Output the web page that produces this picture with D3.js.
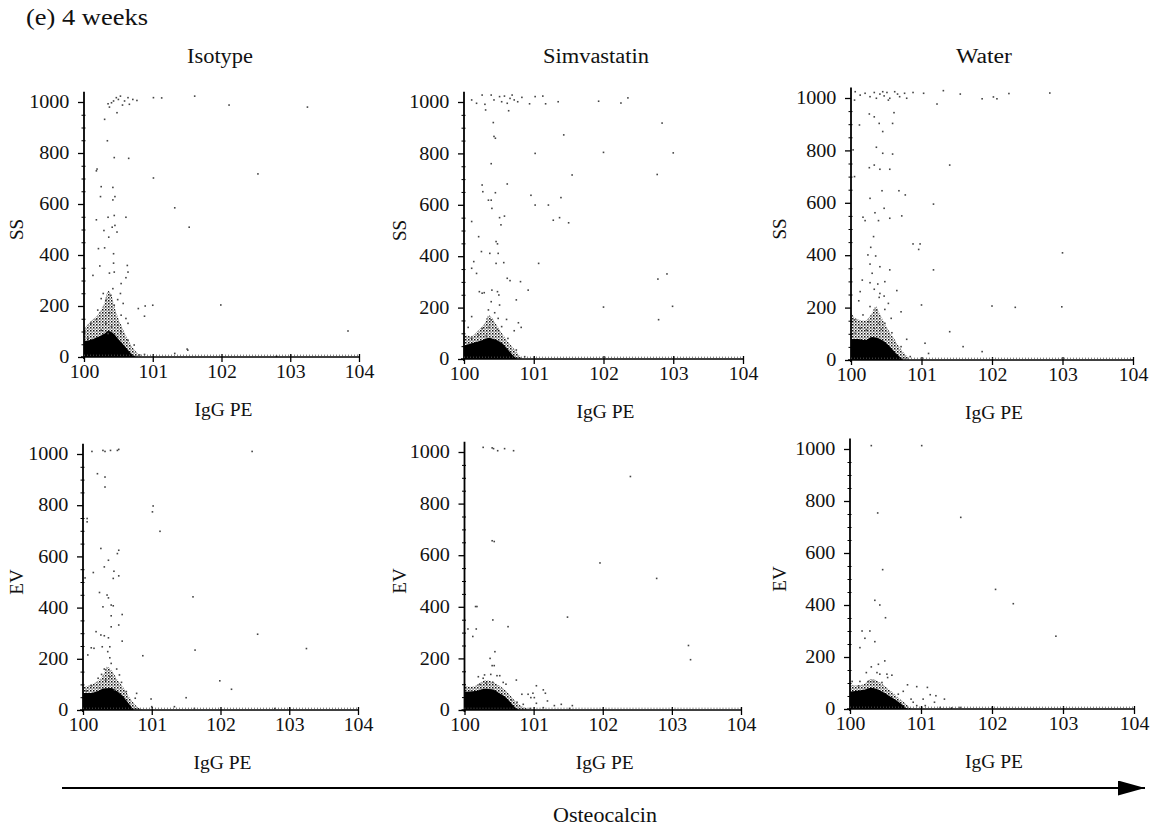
<!DOCTYPE html>
<html><head><meta charset="utf-8">
<script src="https://cdn.jsdelivr.net/npm/d3@7"></script>
<style>
body{margin:0;background:#fff}
svg{display:block}
text{font-family:"Liberation Serif","Times New Roman",serif;fill:#111}
</style>
</head><body>
<svg id="c" width="1156" height="832"></svg>
<script>
// ---------- text / categories ----------
const header = "(e) 4 weeks";
const panelTitles = ["Isotype", "Simvastatin", "Water"];
const rowLabels = ["SS", "EV"];
const xAxisLabel = "IgG PE";
const arrowLabel = "Osteocalcin";
const xTickValues = [0, 1, 2, 3, 4];              // log10 decades
const xTickLabels = ["100", "101", "102", "103", "104"];
const yTickValues = [0, 200, 400, 600, 800, 1000];
const yMinorStep = 50;

// ---------- events: [log10 IgG PE, channel value] ----------
const isotypeSS = [[0.35,993],[0.40,997],[0.43,1004],[0.47,1017],[0.50,1010],[0.53,1023],[0.56,988],[0.59,1004],[0.64,1017],[0.66,991],[0.71,1010],[0.77,1006],[0.48,958],[0.37,980],[1.01,1017],[1.13,1016],[1.61,1023],[2.11,988],[3.25,980],
[0.30,932],[0.34,848],[0.44,782],[0.65,779],[0.18,730],[0.19,737],[1.01,702],[2.53,718],[0.25,668],[0.42,665],[0.24,629],[0.45,629],[0.42,616],[1.32,585],[0.35,548],[0.44,555],[0.61,548],[1.53,509],[0.18,538],[0.29,496],[0.41,509],[0.45,516],[0.48,490],[0.36,470],[0.21,425],[0.30,428],[0.43,405],[0.43,368],[0.44,333],[0.23,357],[0.63,359],[0.64,333],[0.13,320],[0.37,329],[0.61,311],[0.54,288],[0.42,268],[0.28,249],[0.39,242],[0.53,249],[0.25,229],[0.32,223],[0.49,225],[0.44,203],[0.57,210],[0.79,190],[0.89,200],[0.88,160],[1.00,203],[1.99,204],[0.20,184],[0.37,173],[0.54,164],[0.61,151],[0.18,147],[0.10,132],[0.32,132],[0.40,118],[0.49,125],[0.64,132],[0.25,105],[0.35,92],[0.54,99],[0.06,73],[0.64,66],[0.73,47],[0.81,8],[0.88,10],[1.51,27],[1.32,14],[1.50,31],[3.84,102],[2.80,3]];
const isotypeSSCore = [[0,62],[0.05,64],[0.1,68],[0.2,78],[0.3,92],[0.35,102],[0.4,98],[0.45,86],[0.5,70],[0.55,56],[0.6,40],[0.65,24],[0.7,10],[0.76,0]];
const isotypeSSHalo = [[0,110],[0.1,140],[0.2,165],[0.3,215],[0.35,260],[0.4,240],[0.45,190],[0.5,150],[0.55,120],[0.6,88],[0.7,40],[0.8,8],[0.83,0]];

const simvaSS = [[0.11,1008],[0.18,995],[0.26,1027],[0.30,991],[0.39,1027],[0.43,1008],[0.51,1021],[0.54,1001],[0.58,1023],[0.62,995],[0.66,1014],[0.69,1027],[0.72,1008],[0.77,1001],[0.83,1018],[0.94,993],[1.02,1021],[1.13,1023],[1.17,993],[1.35,1001],[1.93,1003],[2.25,996],[2.35,1016],
[0.31,969],[0.64,966],[0.42,920],[0.43,866],[0.45,859],[1.43,872],[2.84,918],[1.02,800],[2.00,804],[3.00,802],[0.39,760],[1.55,716],[2.77,718],[0.62,681],[0.26,677],[0.27,651],[0.45,647],[0.96,637],[1.39,628],[0.35,618],[0.39,618],[0.40,586],[1.02,599],[1.21,599],[0.51,550],[0.58,556],[1.37,550],[1.28,540],[1.50,530],[0.11,535],[0.53,522],[0.21,476],[0.46,457],[0.48,448],[0.25,418],[0.37,411],[0.49,411],[0.14,379],[0.46,372],[0.57,375],[1.07,372],[0.11,353],[0.18,333],[2.78,311],[2.91,331],[0.62,314],[0.66,305],[0.81,301],[0.92,268],[0.22,262],[0.26,256],[0.29,258],[0.40,268],[0.48,262],[0.50,249],[0.75,230],[0.39,223],[2.99,205],[2.00,202],[0.51,210],[0.35,191],[0.44,180],[0.11,165],[2.79,153],[0.39,152],[0.49,158],[0.61,154],[0.78,141],[0.82,123],[0.26,119],[0.36,123],[0.48,115],[0.54,126],[0.72,110],[0.06,123],[0.21,93],[0.32,89],[0.63,80],[0.11,80],[0.75,35],[0.87,9]];
const simvaSSCore = [[0,52],[0.1,60],[0.25,72],[0.35,82],[0.45,76],[0.55,60],[0.6,46],[0.65,30],[0.7,15],[0.76,0]];
const simvaSSHalo = [[0,95],[0.1,88],[0.2,110],[0.3,140],[0.35,170],[0.4,160],[0.5,118],[0.6,78],[0.7,44],[0.8,12],[0.83,0]];

const waterSS = [[0.06,1024],[0.13,1011],[0.20,1018],[0.27,1005],[0.33,1021],[0.36,999],[0.41,1015],[0.45,1024],[0.47,1008],[0.51,1021],[0.55,999],[0.62,1024],[0.66,1015],[0.69,1005],[0.76,1018],[0.79,999],[0.88,1021],[1.03,1018],[1.31,1028],[1.55,1015],[1.22,977],[0.05,992],[0.53,992],[1.86,997],[2.02,1004],[2.07,997],[2.24,1017],[2.82,1019],
[0.26,939],[0.61,944],[0.33,928],[0.12,897],[0.40,903],[0.59,903],[0.45,872],[0.03,802],[0.36,812],[0.45,789],[0.59,786],[1.40,744],[0.26,734],[0.33,744],[0.41,728],[0.55,728],[0.05,700],[0.44,646],[0.68,646],[0.77,630],[0.27,617],[1.17,595],[0.47,579],[0.34,562],[0.72,550],[0.17,545],[0.20,532],[0.39,532],[0.55,541],[0.88,443],[0.98,443],[0.96,422],[0.32,471],[0.28,430],[0.24,401],[0.35,397],[3.00,409],[0.27,366],[0.41,356],[1.17,344],[0.30,331],[0.55,344],[0.16,305],[0.27,295],[0.38,290],[0.48,299],[0.65,265],[0.33,270],[0.41,254],[0.13,261],[0.40,239],[0.47,244],[0.53,216],[0.11,226],[2.00,206],[2.33,201],[2.99,203],[0.71,184],[1.00,210],[0.27,204],[0.36,191],[0.48,193],[0.57,159],[0.17,172],[0.05,153],[0.25,146],[0.39,140],[0.48,140],[0.13,121],[0.33,121],[0.43,117],[0.58,104],[0.22,115],[0.06,102],[0.79,79],[0.71,51],[1.05,64],[0.84,13],[1.10,25],[1.59,51],[1.86,32],[1.40,108]];
const waterSSCore = [[0,80],[0.1,80],[0.2,76],[0.3,88],[0.4,82],[0.5,64],[0.55,52],[0.6,36],[0.65,22],[0.7,10],[0.74,0]];
const waterSSHalo = [[0,185],[0.05,160],[0.1,155],[0.2,150],[0.3,180],[0.35,205],[0.4,180],[0.5,128],[0.6,86],[0.7,44],[0.8,12],[0.83,0]];

const isotypeEV = [[0.13,1010],[0.29,1014],[0.32,1010],[0.40,1014],[0.50,1014],[0.52,1018],[2.46,1010],[0.21,923],[0.32,910],[0.32,871],[1.02,797],[1.01,774],[1.12,698],[0.06,748],[0.06,735],[0.26,631],[0.52,624],[0.50,611],[0.37,585],[0.31,559],[0.15,537],[0.03,516],[0.45,542],[0.44,514],[0.52,524],[0.24,459],[0.35,449],[0.37,438],[0.29,403],[0.41,410],[0.44,407],[1.60,442],[0.41,368],[0.57,373],[0.41,325],[0.52,332],[0.19,306],[0.26,293],[0.31,290],[0.37,282],[0.57,269],[2.54,296],[3.25,240],[0.12,243],[0.16,241],[0.28,247],[0.39,247],[0.07,215],[0.36,228],[0.39,204],[0.87,212],[1.63,234],[0.41,182],[0.31,160],[0.49,160],[0.27,139],[0.39,130],[0.53,137],[0.22,124],[0.33,117],[0.56,108],[1.99,114],[2.16,81],[0.12,95],[0.24,87],[0.46,78],[0.05,74],[0.63,72],[0.78,65],[0.76,46],[0.99,43],[1.50,48],[1.33,13],[1.00,13],[1.62,6],[2.79,6]];
const isotypeEVCore = [[0,66],[0.1,66],[0.2,72],[0.3,84],[0.4,86],[0.5,72],[0.6,48],[0.65,30],[0.7,14],[0.74,0]];
const isotypeEVHalo = [[0,88],[0.1,98],[0.2,110],[0.3,140],[0.35,170],[0.4,160],[0.5,118],[0.6,82],[0.7,40],[0.8,10],[0.86,0]];

const simvaEV = [[0.27,1018],[0.40,1016],[0.42,1013],[0.48,1005],[0.58,1013],[0.71,1005],[2.40,905],[0.40,656],[0.43,653],[2.78,510],[1.96,570],[0.16,401],[0.18,401],[0.41,349],[1.49,360],[0.05,314],[0.17,314],[0.63,323],[0.12,285],[3.24,250],[3.27,195],[0.44,226],[0.37,200],[0.40,172],[0.43,172],[0.38,138],[0.20,129],[0.27,123],[0.47,133],[0.51,133],[0.29,136],[0.75,116],[0.56,107],[0.41,107],[0.60,100],[0.22,100],[0.31,104],[1.04,94],[1.14,78],[0.10,74],[0.83,61],[0.92,61],[0.99,65],[1.17,65],[0.96,48],[1.01,48],[1.20,35],[0.68,39],[0.76,30],[0.85,22],[1.04,26],[1.30,17],[1.40,22],[1.56,17],[0.95,6],[1.14,9],[1.52,6]];
const simvaEVCore = [[0,70],[0.1,72],[0.2,76],[0.3,82],[0.4,80],[0.5,66],[0.6,48],[0.65,34],[0.7,18],[0.75,6],[0.79,0]];
const simvaEVHalo = [[0,95],[0.1,90],[0.2,100],[0.3,115],[0.4,110],[0.5,95],[0.6,74],[0.7,44],[0.8,18],[0.9,6],[0.95,0]];

const waterEV = [[0.30,1013],[1.01,1013],[0.39,754],[1.56,737],[0.46,536],[0.35,418],[0.42,400],[0.50,351],[0.17,300],[0.28,300],[0.21,272],[0.35,259],[0.14,236],[0.49,185],[0.40,172],[0.30,162],[0.23,140],[0.38,140],[0.42,134],[0.52,134],[0.59,130],[0.53,121],[0.03,106],[0.14,106],[0.26,106],[0.33,106],[0.45,102],[0.12,89],[0.81,93],[0.94,86],[1.09,83],[1.13,55],[1.21,51],[0.75,68],[0.68,57],[0.86,38],[1.03,38],[1.19,26],[0.89,26],[1.33,38],[0.94,13],[1.06,13],[1.27,6],[1.43,4],[1.55,6],[2.05,460],[2.30,405],[2.90,280]];
const waterEVCore = [[0,66],[0.1,70],[0.2,74],[0.3,82],[0.4,74],[0.5,60],[0.6,42],[0.7,24],[0.78,6],[0.81,0]];
const waterEVHalo = [[0,95],[0.1,90],[0.2,96],[0.3,115],[0.4,106],[0.5,86],[0.6,64],[0.7,38],[0.8,16],[0.86,0]];

// ---------- layout (pixel geometry of each plot frame) ----------
const frames = [
  {x0:84,  x1:359,  yb:357, yt:102, labX:23,  titleX:220, titleW:66},
  {x0:464, x1:743,  yb:359, yt:102, labX:406, titleX:596, titleW:106},
  {x0:851, x1:1133, yb:360, yt:98,  labX:786, titleX:984, titleW:56},
  {x0:83,  x1:358,  yb:710, yt:454, labX:23},
  {x0:464.5,x1:741, yb:710, yt:452, labX:406},
  {x0:850, x1:1134, yb:709, yt:449, labX:786}
];
const panels = [
  {row:0,col:0,pts:isotypeSS,core:isotypeSSCore,halo:isotypeSSHalo},
  {row:0,col:1,pts:simvaSS,core:simvaSSCore,halo:simvaSSHalo},
  {row:0,col:2,pts:waterSS,core:waterSSCore,halo:waterSSHalo},
  {row:1,col:0,pts:isotypeEV,core:isotypeEVCore,halo:isotypeEVHalo},
  {row:1,col:1,pts:simvaEV,core:simvaEVCore,halo:simvaEVHalo},
  {row:1,col:2,pts:waterEV,core:waterEVCore,halo:waterEVHalo}
];

const svg = d3.select("#c");
const defs = svg.append("defs");
const pat = defs.append("pattern").attr("id","stip").attr("width",3).attr("height",3)
  .attr("patternUnits","userSpaceOnUse");
pat.append("rect").attr("x",0).attr("y",0).attr("width",1.5).attr("height",1.5).attr("fill","#111");
pat.append("rect").attr("x",1.5).attr("y",1.5).attr("width",1.2).attr("height",1.2).attr("fill","#444");
defs.append("marker").attr("id","ah").attr("viewBox","0 0 10 10").attr("refX",10).attr("refY",5)
  .attr("markerWidth",27).attr("markerHeight",15).attr("preserveAspectRatio","none")
  .attr("markerUnits","userSpaceOnUse").attr("orient","auto")
  .append("path").attr("d","M0,0L10,5L0,10z").attr("fill","#000");

svg.append("text").attr("x",26).attr("y",25).attr("font-size",23)
  .attr("textLength",122).attr("lengthAdjust","spacingAndGlyphs").text(header);

panels.forEach((p,i)=>{
  const f = frames[i];
  const x = d3.scaleLinear().domain([0,4]).range([f.x0,f.x1]);
  const y = d3.scaleLinear().domain([0,1000]).range([f.yb,f.yt]);
  const g = svg.append("g");

  const area = d3.area().x(d=>x(d[0])).y0(y(0)).y1(d=>y(d[1])).curve(d3.curveMonotoneX);
  g.append("path").datum(p.halo).attr("d",area).attr("fill","url(#stip)");
  g.append("path").datum(p.core).attr("d",area).attr("fill","#000");

  g.selectAll("rect.ev").data(p.pts).join("rect").attr("class","ev")
    .attr("x",d=>x(d[0])-0.8).attr("y",d=>y(d[1])-0.8)
    .attr("width",1.6).attr("height",1.6).attr("fill","#444");

  // y axis
  const minor = d3.range(0,1001,yMinorStep).filter(v=>yTickValues.indexOf(v)<0);
  const ya = g.append("g").attr("transform",`translate(${f.x0},0)`)
    .call(d3.axisLeft(y).tickValues(yTickValues).tickSize(6).tickPadding(7).tickFormat(d3.format("d")));
  ya.select(".domain").remove();
  ya.selectAll("line").attr("stroke","#000").attr("stroke-width",1.3);
  ya.selectAll("text").attr("font-size",18).attr("font-family","Liberation Serif").attr("fill","#111")
    .attr("transform","scale(1.12,1)");
  const ym = g.append("g").attr("transform",`translate(${f.x0+1.5},0)`)
    .call(d3.axisLeft(y).tickValues(minor).tickSize(4).tickFormat(""));
  ym.select(".domain").remove();
  ym.selectAll("line").attr("stroke","#000").attr("stroke-width",1);
  g.append("line").attr("x1",f.x0).attr("x2",f.x0).attr("y1",y(0)+2).attr("y2",y(1040))
    .attr("stroke","#000").attr("stroke-width",1.8);

  // x axis
  const xa = g.append("g").attr("transform",`translate(0,${f.yb})`)
    .call(d3.axisBottom(x).tickValues(xTickValues).tickSize(5).tickPadding(3)
      .tickFormat((d,k)=>xTickLabels[k]));
  xa.select(".domain").remove();
  xa.selectAll("line").attr("stroke","#000").attr("stroke-width",1.3).attr("y1",-3);
  xa.selectAll("text").attr("font-size",18).attr("font-family","Liberation Serif").attr("fill","#111")
    .attr("transform","scale(1.1,1)");
  g.append("line").attr("x1",f.x0-3).attr("x2",f.x1).attr("y1",f.yb).attr("y2",f.yb)
    .attr("stroke","#000").attr("stroke-width",1.5);
  g.append("line").attr("x1",f.x0).attr("x2",f.x1).attr("y1",f.yb-1.8).attr("y2",f.yb-1.8)
    .attr("stroke","#555").attr("stroke-width",1).attr("stroke-dasharray","1,2");

  g.append("text").attr("x",(f.x0+f.x1)/2+2).attr("y",f.yb+59).attr("text-anchor","middle")
    .attr("font-size",18).attr("textLength",58).attr("lengthAdjust","spacingAndGlyphs").text(xAxisLabel);
  g.append("text").attr("transform",`translate(${f.labX},${(f.yb+f.yt)/2}) rotate(-90)`)
    .attr("text-anchor","middle").attr("font-size",19).text(rowLabels[p.row]);
  if(p.row===0){
    g.append("text").attr("x",f.titleX).attr("y",63).attr("text-anchor","middle")
      .attr("font-size",20).attr("textLength",f.titleW).attr("lengthAdjust","spacingAndGlyphs")
      .text(panelTitles[p.col]);
  }
});

svg.append("line").attr("x1",62).attr("x2",1145).attr("y1",788).attr("y2",788)
  .attr("stroke","#000").attr("stroke-width",2).attr("marker-end","url(#ah)");
svg.append("text").attr("x",605).attr("y",822).attr("text-anchor","middle").attr("font-size",20)
  .attr("textLength",104).attr("lengthAdjust","spacingAndGlyphs").text(arrowLabel);
</script>
</body></html>
